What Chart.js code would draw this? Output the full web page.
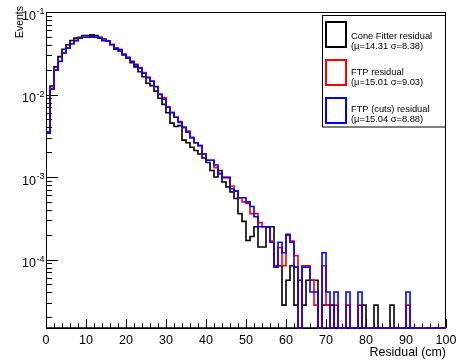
<!DOCTYPE html>
<html>
<head>
<meta charset="utf-8">
<script src="https://cdn.jsdelivr.net/npm/chart.js@4.4.1/dist/chart.umd.min.js"></script>
<style>
  html, body { margin: 0; padding: 0; background: #fff; }
  #wrap { width: 458px; height: 360px; }
</style>
</head>
<body>
<div id="wrap"><canvas id="histo" width="458" height="360"></canvas></div>
<script>
// bin contents, 1 cm bins from 0 to 100
const coneFitter = [
  0.0034, 0.0127, 0.0216, 0.0288, 0.0352, 0.0401, 0.0452, 0.0482, 0.0495, 0.0518,
  0.0518, 0.0528, 0.0518, 0.0495, 0.0470, 0.0445, 0.0401, 0.0353, 0.0337, 0.0301,
  0.0275, 0.0243, 0.0216, 0.0189, 0.0164, 0.0137, 0.0128, 0.0110, 0.0090, 0.0076,
  0.0060, 0.0045, 0.0041, 0.0042, 0.0028, 0.0026, 0.0023, 0.0021, 0.0019, 0.0017,
  0.0015, 0.0012, 0.0010, 0.0012, 0.00087, 0.00076, 0.00066, 0.00055, 0.00036, 0.00029,
  0.00017, 0.00019, 0.00025, 0.000142, 0.000142, 0.00025, 0.00025, 0.000084, 0.000084, 0.000028,
  0.000056, 0.000084, 0.000028, 0.000056, 0.000028, 0.000056, 0.000056, 0.000056, 0, 0.000028,
  0.000028, 0.000028, 0, 0, 0, 0, 0, 0, 0, 0.000028,
  0, 0, 0.000028, 0, 0, 0, 0.000028, 0, 0, 0,
  0, 0, 0, 0, 0, 0, 0, 0, 0, 0
];
const ftp = [
  0.0035, 0.0119, 0.0200, 0.0253, 0.0321, 0.0366, 0.0412, 0.0451, 0.0480, 0.0495,
  0.0495, 0.0500, 0.0495, 0.0480, 0.0460, 0.0445, 0.0404, 0.0366, 0.0350, 0.0308,
  0.0282, 0.0252, 0.0232, 0.0212, 0.0185, 0.0162, 0.0146, 0.0124, 0.0101, 0.0092,
  0.0071, 0.0061, 0.0053, 0.0047, 0.0040, 0.0036, 0.0030, 0.0026, 0.0024, 0.0019,
  0.0016, 0.0016, 0.0013, 0.0011, 0.0010, 0.0010, 0.00078, 0.00068, 0.00056, 0.0005,
  0.00048, 0.00036, 0.00036, 0.00028, 0.00025, 0.00025, 0.000168, 0.000084, 0.00014, 0.000084,
  0.000196, 0.000168, 0.000112, 0, 0.000084, 0.000084, 0.000056, 0.000028, 0, 0.000084,
  0.000028, 0, 0.000028, 0, 0, 0.000028, 0, 0, 0.000028, 0,
  0, 0, 0, 0, 0, 0, 0, 0, 0, 0,
  0.000028, 0, 0, 0, 0, 0, 0, 0, 0, 0
];
const ftpCuts = [
  0.0035, 0.0116, 0.0197, 0.0251, 0.0319, 0.0365, 0.0412, 0.0450, 0.0480, 0.0495,
  0.0495, 0.0500, 0.0495, 0.0480, 0.0450, 0.0445, 0.0404, 0.0363, 0.0350, 0.0307,
  0.0280, 0.0251, 0.0228, 0.0208, 0.0181, 0.0160, 0.0145, 0.0125, 0.0100, 0.0088,
  0.0070, 0.0060, 0.0053, 0.0046, 0.0040, 0.0035, 0.0030, 0.0026, 0.0024, 0.0019,
  0.0016, 0.0016, 0.0014, 0.0011, 0.00098, 0.00098, 0.00072, 0.00068, 0.00056, 0.00056,
  0.0005, 0.00044, 0.00033, 0.00025, 0.00025, 0.00025, 0.000162, 0.000081, 0.000162, 0.000121,
  0.000202, 0.000162, 0.000081, 0, 0.000081, 0.000081, 0.0000405, 0.0000405, 0, 0.000121,
  0.0000405, 0, 0.0000405, 0, 0, 0.0000405, 0, 0, 0.0000405, 0,
  0, 0, 0, 0, 0, 0, 0, 0, 0, 0,
  0.0000405, 0, 0, 0, 0, 0, 0, 0, 0, 0
];

const xTickLabels = [0, 10, 20, 30, 40, 50, 60, 70, 80, 90, 100];
const yDecades = [-1, -2, -3, -4];
const legendNames = ["Cone Fitter residual", "FTP residual", "FTP (cuts) residual"];
const legendStats = ["(\u03bc=14.31 \u03c3=8.38)", "(\u03bc=15.01 \u03c3=9.03)", "(\u03bc=15.04 \u03c3=8.88)"];
const lineColors = ["#000000", "#ff0000", "#0000ff"];

const Y_MIN = 1.48e-5, Y_MAX = 0.1;
const FONT = '"Liberation Sans", Arial, sans-serif';

// histogram -> step line: point at each bin low edge, plus closing edge at 100
function toSteps(vals) {
  const pts = vals.map((v, i) => ({ x: i, y: v > 0 ? v : Y_MIN }));
  pts.push({ x: vals.length, y: pts[pts.length - 1].y });
  return pts;
}

const rootAxes = {
  id: "rootAxes",
  beforeDatasetsDraw(chart) {
    const { ctx, chartArea: a } = chart;
    const xs = chart.scales.x, ys = chart.scales.y;
    ctx.save();
    ctx.fillStyle = "#fff";
    ctx.fillRect(a.left, a.top, a.right - a.left, a.bottom - a.top);
    ctx.strokeStyle = "#000";
    ctx.lineWidth = 1;
    ctx.strokeRect(a.left + 0.5, a.top + 0.5, a.right - a.left - 1, a.bottom - a.top);

    // x ticks, pointing up into the frame
    ctx.beginPath();
    for (let v = 0; v <= 100; v += 2) {
      const px = Math.round(xs.getPixelForValue(v)) + 0.5;
      const len = v % 10 === 0 ? 9 : 4.5;
      ctx.moveTo(px, a.bottom);
      ctx.lineTo(px, a.bottom - len);
    }
    // y ticks, log
    for (let d = -5; d <= -1; d++) {
      for (let k = 1; k <= 9; k++) {
        const v = k * Math.pow(10, d);
        if (v < Y_MIN || v > Y_MAX * 1.0001) continue;
        const py = Math.round(ys.getPixelForValue(v)) + 0.5;
        const len = k === 1 ? 12 : 6;
        ctx.moveTo(a.left, py);
        ctx.lineTo(a.left + len, py);
      }
    }
    ctx.stroke();

    // bottom axis line a bit heavier
    ctx.lineWidth = 1.5;
    ctx.beginPath();
    ctx.moveTo(a.left, a.bottom);
    ctx.lineTo(a.right, a.bottom);
    ctx.stroke();

    // x labels
    ctx.fillStyle = "#000";
    ctx.font = "12.5px " + FONT;
    ctx.textAlign = "center";
    ctx.textBaseline = "alphabetic";
    xTickLabels.forEach(v => ctx.fillText(String(v), xs.getPixelForValue(v), 343.5));

    // y labels 10^d
    yDecades.forEach(d => {
      const py = ys.getPixelForValue(Math.pow(10, d));
      ctx.font = "12.5px " + FONT;
      ctx.textAlign = "right";
      ctx.fillText("10", 36, py + 7.5);
      ctx.font = "9px " + FONT;
      ctx.textAlign = "left";
      ctx.fillText(String(d), 36.5, py + 2);
    });

    // axis titles
    ctx.font = "12.4px " + FONT;
    ctx.textAlign = "right";
    ctx.fillText("Residual (cm)", a.right, 355.5);
    ctx.save();
    ctx.translate(20, 6);
    ctx.rotate(-Math.PI / 2);
    ctx.font = "10.5px " + FONT;
    ctx.textAlign = "right";
    ctx.textBaseline = "middle";
    ctx.fillText("Events", 0, 0);
    ctx.restore();
    ctx.restore();
  },
  afterDatasetsDraw(chart) {
    const { ctx } = chart;
    ctx.save();
    // legend box
    ctx.fillStyle = "#fff";
    ctx.fillRect(322, 15, 124, 112);
    ctx.strokeStyle = "#000";
    ctx.lineWidth = 1;
    ctx.strokeRect(322.5, 15.5, 123, 111.5);
    const boxTop = [22, 60, 98];
    const base1 = [38.5, 75.2, 111.8];
    legendNames.forEach((name, i) => {
      ctx.strokeStyle = lineColors[i];
      ctx.lineWidth = 2;
      ctx.strokeRect(326, boxTop[i], 20, 25);
      ctx.fillStyle = "#000";
      ctx.font = "9.3px " + FONT;
      ctx.textAlign = "left";
      ctx.textBaseline = "alphabetic";
      ctx.fillText(name, 351, base1[i]);
      ctx.fillText(legendStats[i], 351, base1[i] + 10);
    });
    ctx.restore();
  }
};

const series = [coneFitter, ftp, ftpCuts];
const chart = new Chart(document.getElementById("histo"), {
  type: "line",
  data: {
    datasets: series.map((vals, i) => ({
      label: legendNames[i],
      data: toSteps(vals),
      borderColor: lineColors[i],
      borderWidth: 1.6,
      stepped: true,
      pointRadius: 0,
      fill: false,
      clip: false,
      order: 2 - i
    }))
  },
  options: {
    responsive: false,
    animation: false,
    events: [],
    layout: { padding: { left: 46, top: 12, right: 12, bottom: 32 } },
    scales: {
      x: { type: "linear", min: 0, max: 100, display: false },
      y: { type: "logarithmic", min: Y_MIN, max: Y_MAX, bounds: "data", display: false }
    },
    plugins: { legend: { display: false }, tooltip: { enabled: false } }
  },
  plugins: [rootAxes]
});
</script>
</body>
</html>
